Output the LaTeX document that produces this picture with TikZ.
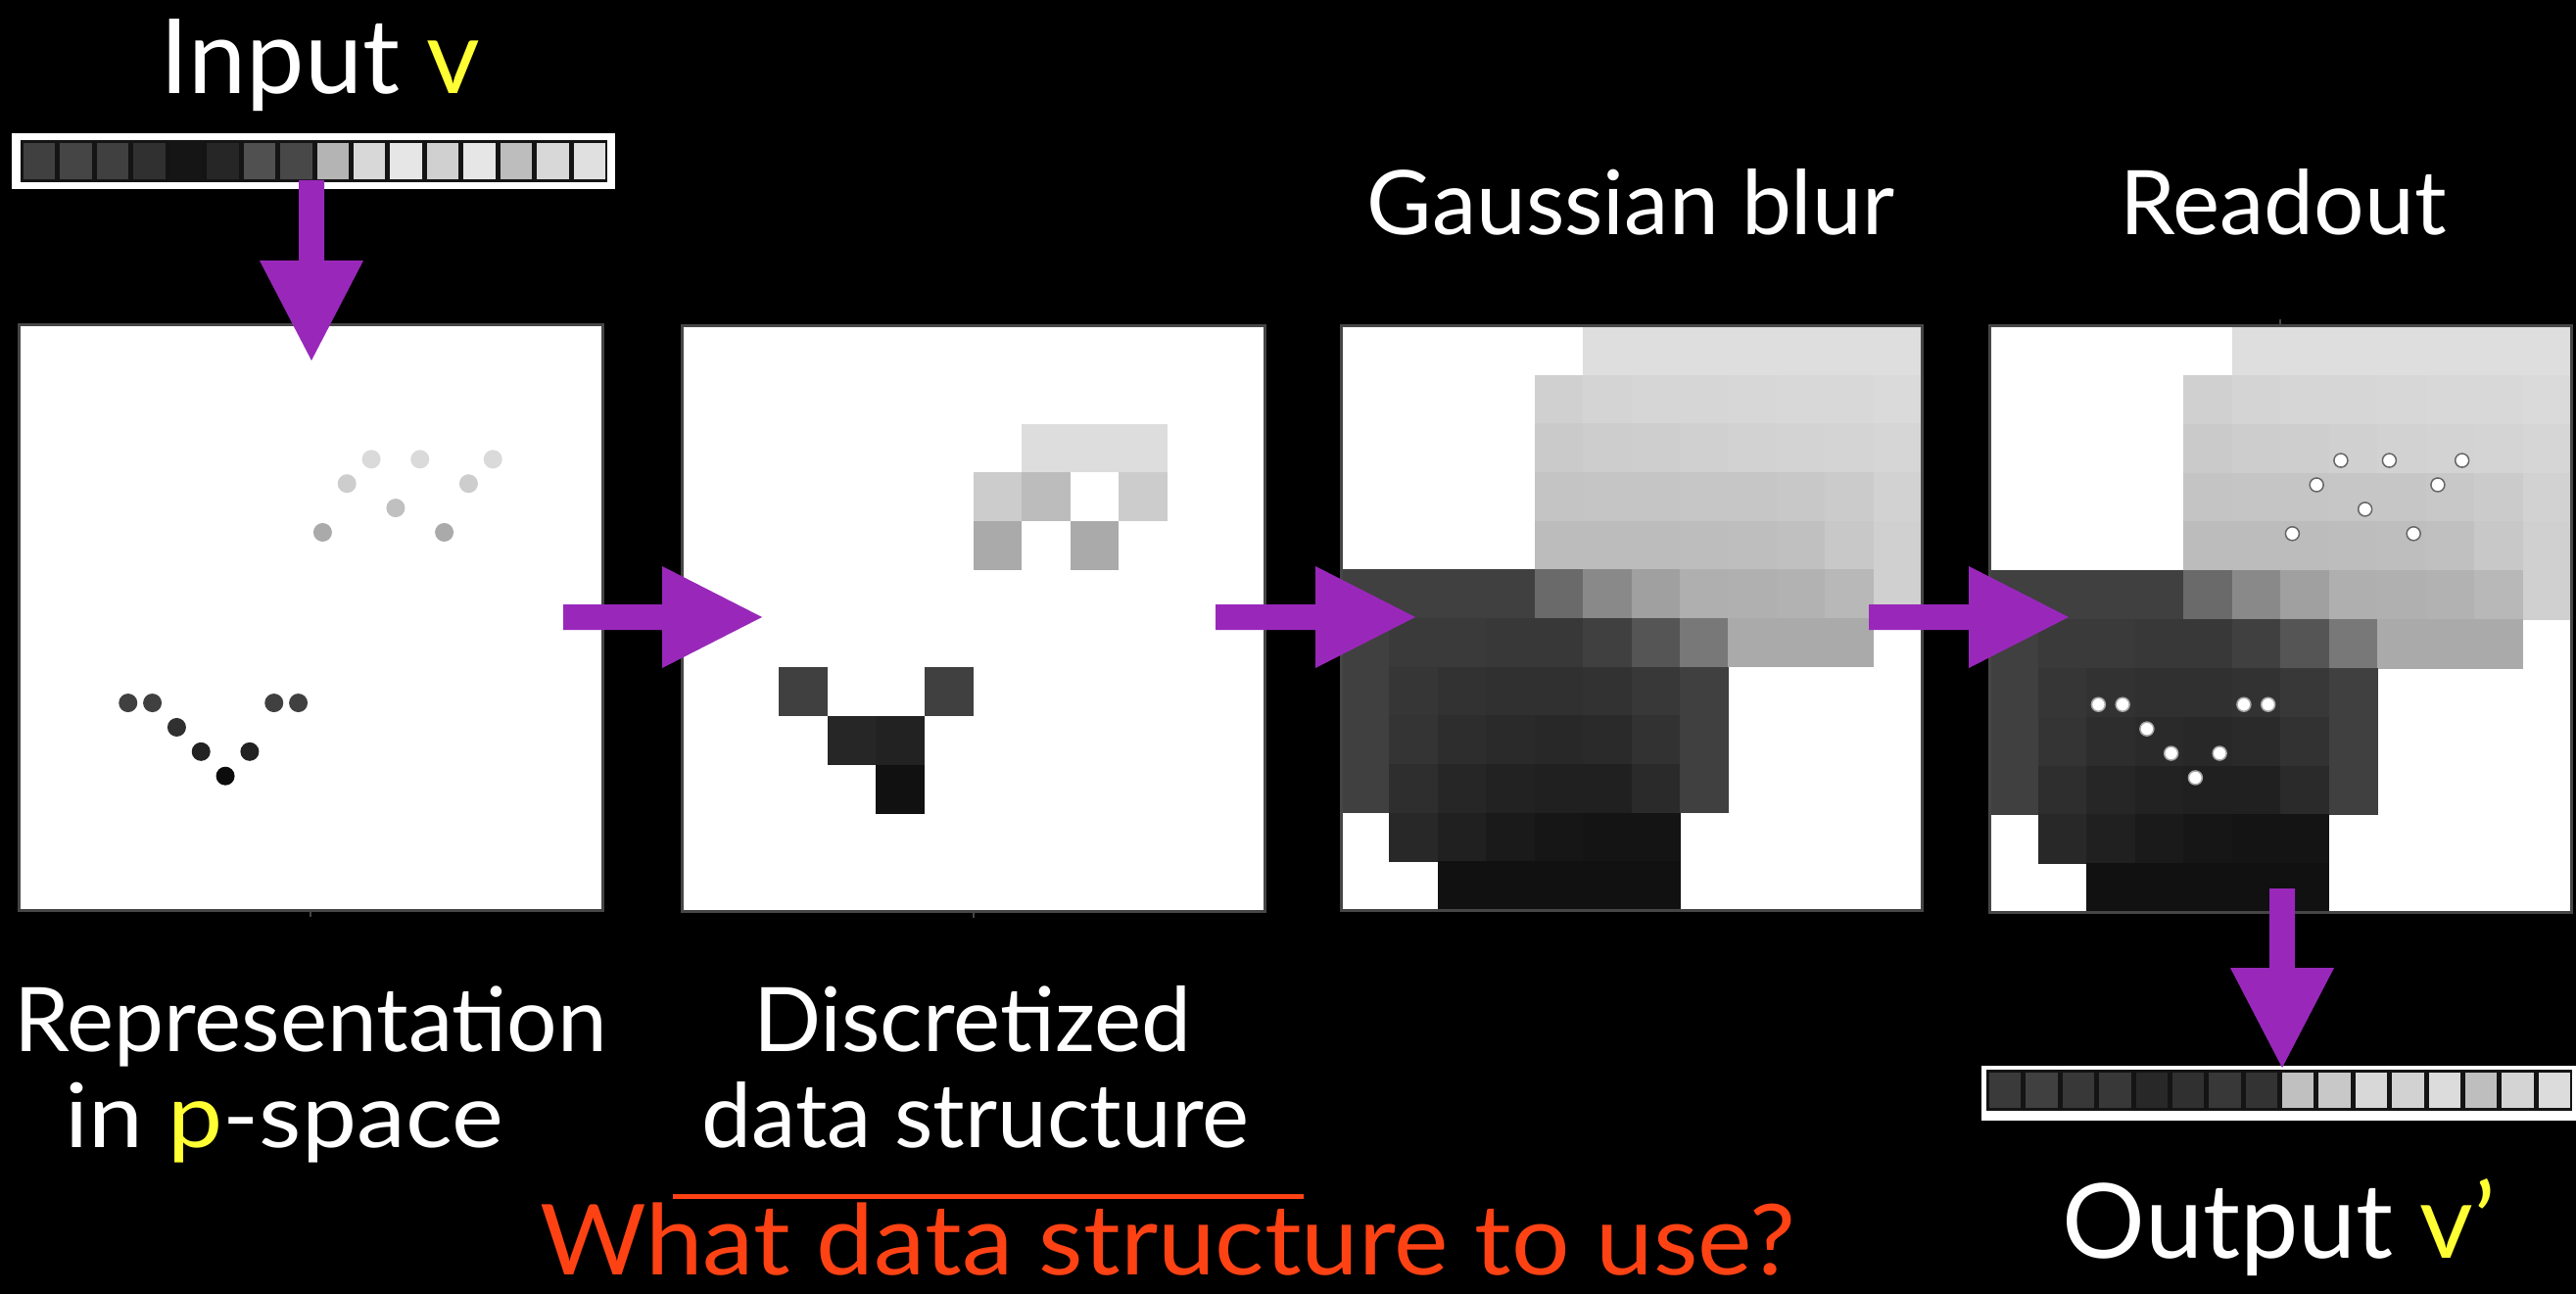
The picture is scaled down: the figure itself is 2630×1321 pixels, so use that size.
\documentclass[tikz,border=0pt]{standalone}
\usepackage{fontspec}
\setmainfont{Lato}
\usetikzlibrary{calc}
\definecolor{purp}{RGB}{153,40,186}
\definecolor{yel}{RGB}{255,255,51}
\definecolor{orng}{RGB}{255,66,20}
\definecolor{frm}{RGB}{70,70,70}
\tikzset{
  panelbox/.style={fill=white,inner sep=0pt,outer sep=0pt},
  frameline/.style={draw=frm,line width=3pt},
  bigtxt/.style={text=white,anchor=base,inner sep=0pt,font=\fontsize{106}{110}\selectfont},
  midtxt/.style={text=white,anchor=base,inner sep=0pt,font=\fontsize{91}{100}\selectfont},
  qtxt/.style={text=orng,anchor=base,inner sep=0pt,font=\fontsize{100}{100}\selectfont},
  tickline/.style={draw=frm,line width=2pt}
}
% grid row of a 12x12 panel: #1 row, #2 list of 12 gray values (255 = white, skipped)
\newcommand\brow[2]{\foreach \v [count=\c from 0] in {#2} {%
  \ifnum\v<255\relax
    \pgfmathsetmacro\pc{\v/2.55}%
    \fill[white!\pc!black] ({\PX+\c*\PW/12},{\PY+#1*\PH/12}) rectangle ({\PX+(\c+1)*\PW/12+0.7},{\PY+(#1+1)*\PH/12+0.7});
  \fi}}
\newcommand\bcell[3]{% row col value
  \pgfmathsetmacro\pc{#3/2.55}%
  \fill[white!\pc!black] ({\PX+#2*\PW/12},{\PY+#1*\PH/12}) rectangle ({\PX+(#2+1)*\PW/12},{\PY+(#1+1)*\PH/12});}
\newcommand\blurmap{%
  \brow{0}{255,255,255,255,255,222,222,222,222,222,222,222}
  \brow{1}{255,255,255,255,208,212,214,214,215,216,216,218}
  \brow{2}{255,255,255,255,202,205,206,208,210,211,212,214}
  \brow{3}{255,255,255,255,196,197,197,198,198,200,203,210}
  \brow{4}{255,255,255,255,188,188,188,189,190,192,200,208}
  \brow{5}{64,64,64,64,106,137,160,175,176,178,184,208}
  \brow{6}{64,58,58,56,56,64,85,120,170,170,170,255}
  \brow{7}{64,54,50,48,48,50,56,64,255,255,255,255}
  \brow{8}{64,52,45,42,40,42,50,64,255,255,255,255}
  \brow{9}{64,46,38,34,32,32,42,64,255,255,255,255}
  \brow{10}{255,40,32,26,22,20,20,255,255,255,255,255}
  \brow{11}{255,255,17,17,17,17,17,255,255,255,255,255}}
% dots on the 24-grid: kx/ky/gray
\newcommand\dotlistdark{4/15/64,5/15/64,10/15/64,11/15/64,6/16/48,7/17/34,9/17/34,8/18/12}
\newcommand\dotlistlight{14/5/218,16/5/218,19/5/218,13/6/205,18/6/205,15/7/192,12/8/170,17/8/170}
% bar cells: x0 y0 x1 y1 list
\newcommand\barcells[5]{\foreach \v [count=\i from 0] in {#5} {%
  \pgfmathsetmacro\pc{\v/2.55}%
  \fill[white!\pc!black] ({#1+\i*(#3-#1)/16+3},{#2+3}) rectangle ({#1+(\i+1)*(#3-#1)/16-2},{#4-3});}}
\newcommand\harrow[2]{\fill[purp] ($(#1)+(0,-13)$) -- ($(#2)+(-102,-13)$) -- ($(#2)+(-102,-52)$) -- (#2) -- ($(#2)+(-102,52)$) -- ($(#2)+(-102,13)$) -- ($(#1)+(0,13)$) -- cycle;}
\newcommand\varrow[2]{\fill[purp] ($(#1)+(-13,0)$) -- ($(#2)+(-13,-102)$) -- ($(#2)+(-53,-102)$) -- (#2) -- ($(#2)+(53,-102)$) -- ($(#2)+(13,-102)$) -- ($(#1)+(13,0)$) -- cycle;}
\begin{document}
\begin{tikzpicture}[x=1pt,y=-1pt]
\fill[black] (0,0) rectangle (2630,1321);
\useasboundingbox (0,0) rectangle (2630,1321);

% ---------- panels ----------
\node[panelbox,minimum width=596pt,minimum height=597pt] (p1) at (317,630.5) {};
\node[panelbox,minimum width=595pt,minimum height=597pt] (p2) at (993.5,631.5) {};
\node[panelbox,minimum width=593pt,minimum height=596pt] (p3) at (1665.5,631) {};
\node[panelbox,minimum width=594pt,minimum height=598pt] (p4) at (2328,632) {};

% panel 1: representation (dots)
\def\PX{19}\def\PY{332}\def\PW{596}\def\PH{597}
\foreach \kx/\ky/\g in \dotlistdark {\pgfmathsetmacro\pc{\g/2.55}
  \fill[white!\pc!black] ({\PX+(\kx+0.5)*\PW/24},{\PY+(\ky+0.5)*\PH/24}) circle[radius=9.5];}
\foreach \kx/\ky/\g in \dotlistlight {\pgfmathsetmacro\pc{\g/2.55}
  \fill[white!\pc!black] ({\PX+(\kx+0.5)*\PW/24},{\PY+(\ky+0.5)*\PH/24}) circle[radius=9.5];}

% panel 2: discretized
\def\PX{696}\def\PY{333}\def\PW{595}\def\PH{597}
\bcell{2}{7}{221}\bcell{2}{8}{221}\bcell{2}{9}{221}
\bcell{3}{6}{204}\bcell{3}{7}{188}\bcell{3}{9}{204}
\bcell{4}{6}{170}\bcell{4}{8}{170}
\bcell{7}{2}{64}\bcell{7}{5}{64}
\bcell{8}{3}{38}\bcell{8}{4}{34}
\bcell{9}{4}{17}

% panel 3: gaussian blur
\def\PX{1369}\def\PY{333}\def\PW{593}\def\PH{596}
\blurmap

% panel 4: readout
\def\PX{2031}\def\PY{333}\def\PW{594}\def\PH{598}
\blurmap
\foreach \kx/\ky/\g in \dotlistdark {
  \filldraw[fill=white,draw=gray!70,line width=1.5pt] ({\PX+(\kx+0.5)*\PW/24},{\PY+(\ky+0.5)*\PH/24}) circle[radius=7];}
\foreach \kx/\ky/\g in \dotlistlight {
  \filldraw[fill=white,draw=gray!80!black,line width=1.5pt] ({\PX+(\kx+0.5)*\PW/24},{\PY+(\ky+0.5)*\PH/24}) circle[radius=7];}

% frames and ticks
\foreach \p in {p1,p2,p3,p4} {\draw[frameline] (\p.north west) rectangle (\p.south east);}
\draw[tickline] (p1.south) -- ++(0,7);
\draw[tickline] (p2.south) -- ++(0,7);
\draw[tickline] (p4.north) -- ++(0,-7);

% ---------- vector bars ----------
\node[fill=white,inner sep=0pt,minimum width=616pt,minimum height=57pt] (inbar) at (320,164.5) {};
\fill[black!92] (21,143) rectangle (620,186);
\barcells{21}{143}{620}{186}{64,69,64,48,21,38,80,72,180,216,230,208,230,189,216,224}

\node[fill=white,inner sep=0pt,minimum width=610pt,minimum height=56pt] (outbar) at (2328,1116) {};
\fill[black!92] (2028,1092) rectangle (2626,1134);
\barcells{2028}{1092}{2626}{1134}{58,64,56,56,40,48,56,51,192,200,216,210,220,190,212,220}

% ---------- arrows ----------
\coordinate (ins) at (318,184);   \coordinate (ine) at (318,368);
\coordinate (a1s) at (575,630);   \coordinate (a1e) at (778,630);
\coordinate (a2s) at (1241,630);  \coordinate (a2e) at (1445,630);
\coordinate (a3s) at (1908,630);  \coordinate (a3e) at (2112,630);
\coordinate (outs) at (2330,907); \coordinate (oute) at (2330,1090);
\varrow{ins}{ine}
\harrow{a1s}{a1e}
\harrow{a2s}{a2e}
\harrow{a3s}{a3e}
\varrow{outs}{oute}

% ---------- texts ----------
\node[bigtxt] (tin) at (327,96) {Input \textcolor{yel}{v}};
\node[midtxt] (tgauss) at (1665,240) {Gaussian blur};
\node[midtxt] (tread) at (2331,240) {Readout};
\node[midtxt] (trep1) at (317,1073) {Representation};
\node[midtxt] (trep2) at (290,1171) {\scalebox{1.1}[1]{in \textcolor{yel}{p}-space}};
\node[midtxt] (tdis1) at (993,1073) {Discretized};
\node[midtxt] (tdis2) at (996,1171) {data structure};
\draw[orng,line width=5pt] (687,1221) coordinate (ul1) -- (1331,1221) coordinate (ul2);
\node[qtxt] (tq) at (1192,1301) {\scalebox{1.05}[1]{What data structure to use?}};
\node[bigtxt] (tout) at (2327,1284) {Output \textcolor{yel}{v’}};
\end{tikzpicture}
\end{document}
